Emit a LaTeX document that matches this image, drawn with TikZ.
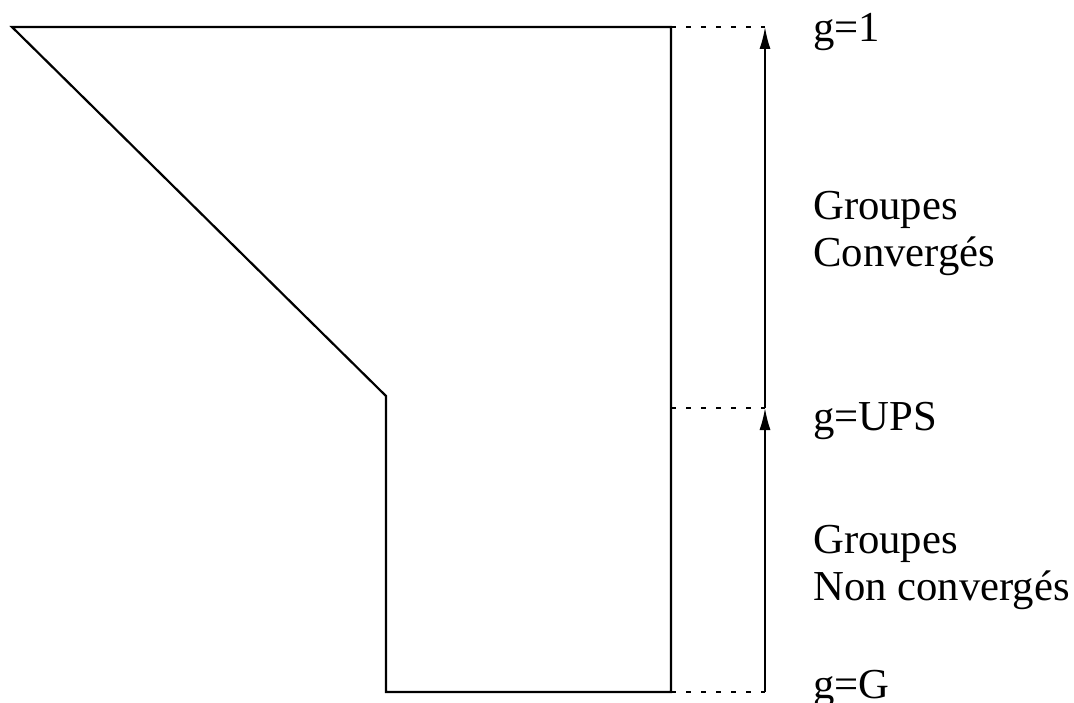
\documentclass[tikz,border=0pt]{standalone}
\usepackage{fontspec}
\setmainfont{Liberation Serif}
\usetikzlibrary{arrows.meta,positioning}

\begin{document}
\begin{tikzpicture}[
  x=1pt, y=-1pt,
  outline/.style={line width=2.2pt, line join=miter},
  arr/.style={-{Latex[length=22pt,width=11pt]}, line width=1.8pt},
  guide/.style={line width=1.4pt, dash pattern=on 5pt off 10pt},
  lbl/.style={font=\fontsize{42.7}{47}\selectfont, anchor=base west, inner sep=0pt, align=left}
]
\useasboundingbox (0,0) rectangle (1074,703);
\clip (0,0) rectangle (1074,703);

% Outline of the profile
\coordinate (tl) at (12,27);
\coordinate (tr) at (671,27);
\coordinate (br) at (671,692);
\coordinate (bl) at (386,692);
\coordinate (kink) at (386,396);
\draw[outline] (tl) -- (tr) -- (br) -- (bl) -- (kink) -- cycle;

% Axis
\coordinate (atop) at (765,27);
\coordinate (amid) at (765,408);
\coordinate (abot) at (765,692);
\coordinate (emid) at (671,408);
\draw[arr] (abot) -- (amid);
\draw[arr] (amid) -- (atop);

% Guides
\draw[guide] (tr) -- (atop);
\draw[guide] (emid) -- (amid);
\draw[guide] (br) -- (abot);

% Labels (base = last line)
\node[lbl] (gone) at (813,42) {g=1};
\node[lbl] (conv) at (813,267) {Groupes\\Convergés};
\node[lbl] (gups) at (813,430) {g=UPS};
\node[lbl] (nconv) at (813,600) {Groupes\\Non convergés};
\node[lbl] (gG) at (813,698) {g=G};

\end{tikzpicture}
\end{document}
